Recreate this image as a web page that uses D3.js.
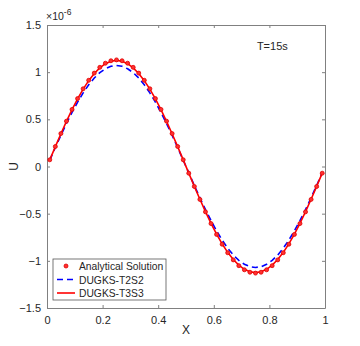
<!DOCTYPE html>
<html>
<head>
<meta charset="utf-8">
<script src="https://cdn.jsdelivr.net/npm/d3@7"></script>
<style>
  body { margin: 0; background: #fff; }
  text { font-family: "Liberation Sans", Arial, sans-serif; fill: #262626; }
</style>
</head>
<body>
<div id="chart"></div>
<script>
// Sample positions along X
const xValues = [
    0.01, 0.03, 0.05, 0.07, 0.09, 0.11, 0.13, 0.15, 0.17, 0.19,
    0.21, 0.23, 0.25, 0.27, 0.29, 0.31, 0.33, 0.35, 0.37, 0.39,
    0.41, 0.43, 0.45, 0.47, 0.49, 0.51, 0.53, 0.55, 0.57, 0.59,
    0.61, 0.63, 0.65, 0.67, 0.69, 0.71, 0.73, 0.75, 0.77, 0.79,
    0.81, 0.83, 0.85, 0.87, 0.89, 0.91, 0.93, 0.95, 0.97, 0.99
];

// U values, in units of 1e-6
const analytical = [
    0.071, 0.212, 0.349, 0.481, 0.605, 0.720, 0.824, 0.914, 0.990, 1.051,
    1.095, 1.121, 1.130, 1.121, 1.095, 1.051, 0.990, 0.914, 0.824, 0.720,
    0.605, 0.481, 0.349, 0.212, 0.071, -0.071, -0.212, -0.349, -0.481, -0.605,
    -0.720, -0.824, -0.914, -0.990, -1.051, -1.095, -1.121, -1.130, -1.121, -1.095,
    -1.051, -0.990, -0.914, -0.824, -0.720, -0.605, -0.481, -0.349, -0.212, -0.071
];
const dugksT2S2 = [
    0.067, 0.201, 0.331, 0.456, 0.573, 0.682, 0.780, 0.866, 0.938, 0.995,
    1.036, 1.062, 1.070, 1.062, 1.036, 0.995, 0.938, 0.866, 0.780, 0.682,
    0.573, 0.456, 0.331, 0.201, 0.067, -0.067, -0.201, -0.331, -0.456, -0.573,
    -0.682, -0.780, -0.866, -0.938, -0.995, -1.036, -1.062, -1.070, -1.062, -1.036,
    -0.995, -0.938, -0.866, -0.780, -0.682, -0.573, -0.456, -0.331, -0.201, -0.067
];
const dugksT3S3 = [
    0.070, 0.211, 0.347, 0.479, 0.603, 0.717, 0.820, 0.910, 0.986, 1.046,
    1.090, 1.116, 1.125, 1.116, 1.090, 1.046, 0.986, 0.910, 0.820, 0.717,
    0.603, 0.479, 0.347, 0.211, 0.070, -0.070, -0.211, -0.347, -0.479, -0.603,
    -0.717, -0.820, -0.910, -0.986, -1.046, -1.090, -1.116, -1.125, -1.116, -1.090,
    -1.046, -0.986, -0.910, -0.820, -0.717, -0.603, -0.479, -0.347, -0.211, -0.070
];

const xTicks = [0, 0.2, 0.4, 0.6, 0.8, 1];
const yTicks = [-1.5, -1, -0.5, 0, 0.5, 1, 1.5];
const legendLabels = ['Analytical Solution', 'DUGKS-T2S2', 'DUGKS-T3S3'];

const width = 360, height = 346;
const margin = { top: 25, right: 35, bottom: 38, left: 47 };
const plotW = width - margin.left - margin.right;
const plotH = height - margin.top - margin.bottom;

const svg = d3.select('#chart')
    .append('svg')
    .attr('width', width)
    .attr('height', height);

const g = svg.append('g')
    .attr('transform', `translate(${margin.left},${margin.top})`);

const xScale = d3.scaleLinear().domain([0, 1]).range([0, plotW]);
const yScale = d3.scaleLinear().domain([-1.5, 1.5]).range([plotH, 0]);

const axisColor = '#808080';

// Axes with inward ticks on all four sides
function styleAxis(sel) {
    sel.select('.domain').attr('stroke', axisColor);
    sel.selectAll('.tick line').attr('stroke', axisColor);
    sel.selectAll('.tick text')
        .style('font-size', '11px')
        .attr('fill', '#262626');
}

g.append('g')
    .attr('transform', `translate(0,${plotH})`)
    .call(d3.axisBottom(xScale).tickValues(xTicks).tickSizeInner(-3).tickSizeOuter(0)
        .tickPadding(8).tickFormat(d3.format('')))
    .call(styleAxis);

g.append('g')
    .call(d3.axisTop(xScale).tickValues(xTicks).tickSizeInner(-3).tickSizeOuter(0).tickFormat(''))
    .call(styleAxis);

g.append('g')
    .call(d3.axisLeft(yScale).tickValues(yTicks).tickSizeInner(-3).tickSizeOuter(0)
        .tickPadding(6).tickFormat(d3.format('')))
    .call(styleAxis);

g.append('g')
    .attr('transform', `translate(${plotW},0)`)
    .call(d3.axisRight(yScale).tickValues(yTicks).tickSizeInner(-3).tickSizeOuter(0).tickFormat(''))
    .call(styleAxis);

// Exponent label
const expText = g.append('text')
    .attr('x', -1)
    .attr('y', -5)
    .style('font-size', '10.5px');
expText.append('tspan').text('\u00d710');
expText.append('tspan').attr('dy', -5).style('font-size', '8.5px').text('-6');

// Series
const line = d3.line()
    .x(d => xScale(d[0]))
    .y(d => yScale(d[1]));

const t2s2 = xValues.map((x, i) => [x, dugksT2S2[i]]);
const t3s3 = xValues.map((x, i) => [x, dugksT3S3[i]]);
const exact = xValues.map((x, i) => [x, analytical[i]]);

g.append('path')
    .datum(t2s2)
    .attr('fill', 'none')
    .attr('stroke', '#0000ff')
    .attr('stroke-width', 1.6)
    .attr('stroke-dasharray', '6,4')
    .attr('d', line);

g.append('path')
    .datum(t3s3)
    .attr('fill', 'none')
    .attr('stroke', '#ff0000')
    .attr('stroke-width', 1.6)
    .attr('d', line);

g.selectAll('.dot')
    .data(exact)
    .enter().append('circle')
    .attr('class', 'dot')
    .attr('cx', d => xScale(d[0]))
    .attr('cy', d => yScale(d[1]))
    .attr('r', 2)
    .attr('fill', '#ff3030')
    .attr('stroke', '#e00000')
    .attr('stroke-width', 0.8);

// Annotation
g.append('text')
    .attr('x', xScale(0.755))
    .attr('y', 25)
    .style('font-size', '11px')
    .text('T=15s');

// Axis labels
svg.append('text')
    .attr('x', margin.left + plotW / 2)
    .attr('y', 334)
    .style('text-anchor', 'middle')
    .style('font-size', '12px')
    .text('X');

svg.append('text')
    .attr('transform', `translate(18,${margin.top + plotH / 2}) rotate(-90)`)
    .style('text-anchor', 'middle')
    .style('font-size', '12px')
    .text('U');

// Legend
const legend = g.append('g').attr('transform', 'translate(6,234)');
legend.append('rect')
    .attr('width', 113)
    .attr('height', 41)
    .attr('fill', '#fff')
    .attr('stroke', '#555')
    .attr('stroke-width', 0.8);

const rowY = [7, 20.5, 34];
legend.append('circle')
    .attr('cx', 13).attr('cy', rowY[0]).attr('r', 2)
    .attr('fill', '#ff3030').attr('stroke', '#e00000').attr('stroke-width', 0.8);
legend.append('line')
    .attr('x1', 4).attr('x2', 22).attr('y1', rowY[1]).attr('y2', rowY[1])
    .attr('stroke', '#0000ff').attr('stroke-width', 1.6).attr('stroke-dasharray', '6,4');
legend.append('line')
    .attr('x1', 4).attr('x2', 22).attr('y1', rowY[2]).attr('y2', rowY[2])
    .attr('stroke', '#ff0000').attr('stroke-width', 1.6);

legend.selectAll('.legend-label')
    .data(legendLabels)
    .enter().append('text')
    .attr('class', 'legend-label')
    .attr('x', 26)
    .attr('y', (d, i) => rowY[i] + 4)
    .style('font-size', '10.3px')
    .text(d => d);
</script>
</body>
</html>
